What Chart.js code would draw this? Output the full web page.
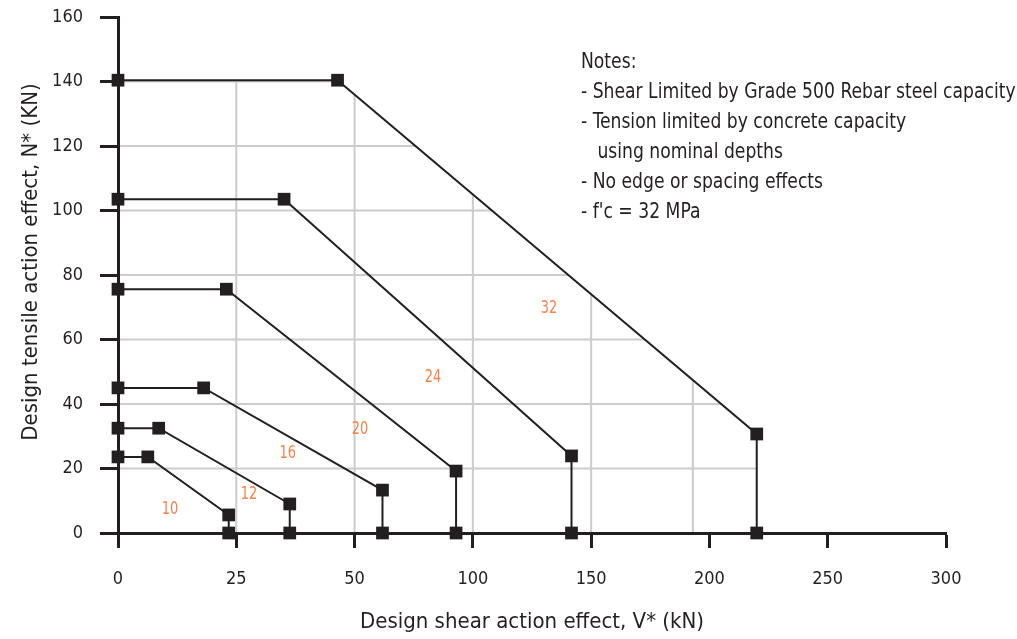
<!DOCTYPE html>
<html lang="en">
<head>
    <meta charset="UTF-8">
    <title>Tension / Shear Interaction</title>
    <script src="https://cdn.jsdelivr.net/npm/chart.js"></script>
    <style>
        html, body { margin: 0; padding: 0; background: #fff; }
        #wrap { width: 1017px; height: 639px; }
    </style>
</head>
<body>
    <div id="wrap"><canvas id="myChart" width="1017" height="639"></canvas></div>
    <script>
        // bar sizes (labels drawn in orange)
        const barSizes = ['10', '12', '16', '20', '24', '32'];
        // design shear V* (kN) for each polyline point
        const shear10 = [0, 6.3, 23.4, 23.4];
        const shear12 = [0, 8.6, 36.3, 36.3];
        const shear16 = [0, 18.1, 61.8, 61.8];
        const shear20 = [0, 22.9, 92.9, 92.9];
        const shear24 = [0, 35.1, 141.7, 141.7];
        const shear32 = [0, 46.4, 220, 220];
        // design tension N* (kN) for each polyline point
        const tension10 = [23.6, 23.6, 5.6, 0];
        const tension12 = [32.5, 32.5, 9.0, 0];
        const tension16 = [45, 45, 13.3, 0];
        const tension20 = [75.6, 75.6, 19.2, 0];
        const tension24 = [103.5, 103.5, 23.9, 0];
        const tension32 = [140.4, 140.4, 30.7, 0];
        // where the size labels sit (kN)
        const labelShear = [11, 27.7, 35.9, 52.3, 83.1, 132.2];
        const labelTension = [7.4, 12.1, 24.8, 32.2, 48.4, 69.8];
        // x axis tick labels (evenly spaced, non linear)
        const xTickValues = [0, 25, 50, 100, 150, 200, 250, 300];
        const yTickStep = 20;
        // light grid inside the 32 envelope
        const gridShear = [25, 50, 100, 150, 193];
        const gridTension = [20, 40, 60, 80, 100, 120, 140];

        const yTitle = 'Design tensile action effect, N* (KN)';
        const notes = [
            'Notes:',
            '- Shear Limited by Grade 500 Rebar steel capacity',
            '- Tension limited by concrete capacity',
            '   using nominal depths',
            '- No edge or spacing effects',
            "- f'c = 32 MPa"
        ];

        const DARK = '#231f20';
        const ORANGE = '#f4834a';
        const FONT = "'DejaVu Sans Condensed', 'DejaVu Sans', sans-serif";

        // map kN onto the evenly spaced tick positions
        function toAxis(v) {
            for (let i = 0; i < xTickValues.length - 1; i++) {
                const a = xTickValues[i], b = xTickValues[i + 1];
                if (v <= b) return i + (v - a) / (b - a);
            }
            return xTickValues.length - 1;
        }

        const shearSets = [shear10, shear12, shear16, shear20, shear24, shear32];
        const tensionSets = [tension10, tension12, tension16, tension20, tension24, tension32];

        const datasets = barSizes.map((size, i) => ({
            label: size,
            data: shearSets[i].map((v, j) => ({ x: toAxis(v), y: tensionSets[i][j] })),
            showLine: true,
            borderColor: DARK,
            borderWidth: 2,
            backgroundColor: DARK,
            pointStyle: 'rect',
            pointRadius: 9,
            pointBorderWidth: 0,
            pointHoverRadius: 9,
            clip: false
        }));

        const gridPlugin = {
            id: 'envelopeGrid',
            beforeDraw(chart) {
                const { ctx, scales: { x, y } } = chart;
                const px = v => x.getPixelForValue(toAxis(v));
                ctx.save();
                ctx.beginPath();
                shear32.forEach((v, j) => {
                    const X = px(v), Y = y.getPixelForValue(tension32[j]);
                    j === 0 ? ctx.moveTo(X, Y) : ctx.lineTo(X, Y);
                });
                ctx.lineTo(px(0), y.getPixelForValue(0));
                ctx.closePath();
                ctx.clip();
                ctx.strokeStyle = '#cccccc';
                ctx.lineWidth = 2;
                gridShear.forEach(v => {
                    ctx.beginPath();
                    ctx.moveTo(px(v), y.getPixelForValue(0));
                    ctx.lineTo(px(v), y.getPixelForValue(160));
                    ctx.stroke();
                });
                gridTension.forEach(t => {
                    ctx.beginPath();
                    ctx.moveTo(px(0), y.getPixelForValue(t));
                    ctx.lineTo(px(300), y.getPixelForValue(t));
                    ctx.stroke();
                });
                ctx.restore();
            }
        };

        // draw text squeezed sideways so it looks like a narrow face
        function narrowText(ctx, str, x, y, squeeze) {
            ctx.save();
            ctx.translate(x, y);
            ctx.scale(squeeze, 1);
            ctx.fillText(str, 0, 0);
            ctx.restore();
        }

        const textPlugin = {
            id: 'textBits',
            afterDatasetsDraw(chart) {
                const { ctx, scales: { x, y } } = chart;
                ctx.save();
                ctx.fillStyle = ORANGE;
                ctx.font = '18px ' + FONT;
                ctx.textAlign = 'center';
                ctx.textBaseline = 'middle';
                barSizes.forEach((s, i) => {
                    narrowText(ctx, s, x.getPixelForValue(toAxis(labelShear[i])), y.getPixelForValue(labelTension[i]), 0.8);
                });

                // y axis title, sits a little above the middle of the axis
                ctx.fillStyle = DARK;
                ctx.font = '22px ' + FONT;
                ctx.save();
                ctx.translate(31, 262);
                ctx.rotate(-Math.PI / 2);
                ctx.fillText(yTitle, 0, 0);
                ctx.restore();

                ctx.font = '21px ' + FONT;
                ctx.textAlign = 'left';
                ctx.textBaseline = 'alphabetic';
                notes.forEach((line, i) => narrowText(ctx, line, 581, 68 + i * 30, 0.91));
                ctx.restore();
            }
        };

        const ctx = document.getElementById('myChart').getContext('2d');
        const myChart = new Chart(ctx, {
            type: 'scatter',
            data: { datasets: datasets },
            options: {
                responsive: false,
                animation: false,
                events: [],
                layout: { padding: { top: 17, right: 71, left: 0, bottom: 0 } },
                plugins: { legend: { display: false }, tooltip: { enabled: false } },
                scales: {
                    x: {
                        type: 'linear',
                        min: 0,
                        max: xTickValues.length - 1,
                        afterFit(scale) {
                            scale.height = 106;
                            scale.paddingLeft = 0;
                            scale.paddingRight = 0;
                        },
                        afterBuildTicks(scale) {
                            scale.ticks = xTickValues.map((v, i) => ({ value: i }));
                        },
                        ticks: {
                            callback: (value) => xTickValues[value],
                            color: DARK,
                            font: { family: FONT, size: 18 },
                            padding: 21,
                            maxRotation: 0
                        },
                        grid: {
                            drawOnChartArea: false,
                            drawTicks: true,
                            tickLength: 15,
                            tickWidth: 3,
                            tickColor: DARK
                        },
                        border: { display: true, color: DARK, width: 3 },
                        title: {
                            display: true,
                            text: 'Design shear action effect, V* (kN)',
                            color: DARK,
                            font: { family: FONT, size: 22 },
                            padding: { top: 0, bottom: 4 }
                        }
                    },
                    y: {
                        min: 0,
                        max: 160,
                        afterFit(scale) {
                            scale.width = 118;
                            scale.paddingTop = 0;
                            scale.paddingBottom = 0;
                        },
                        ticks: {
                            stepSize: yTickStep,
                            color: DARK,
                            font: { family: FONT, size: 18 },
                            padding: 17
                        },
                        grid: {
                            drawOnChartArea: false,
                            drawTicks: true,
                            tickLength: 18,
                            tickWidth: 3,
                            tickColor: DARK
                        },
                        border: { display: true, color: DARK, width: 3 }
                    }
                }
            },
            plugins: [gridPlugin, textPlugin]
        });
    </script>
</body>
</html>
